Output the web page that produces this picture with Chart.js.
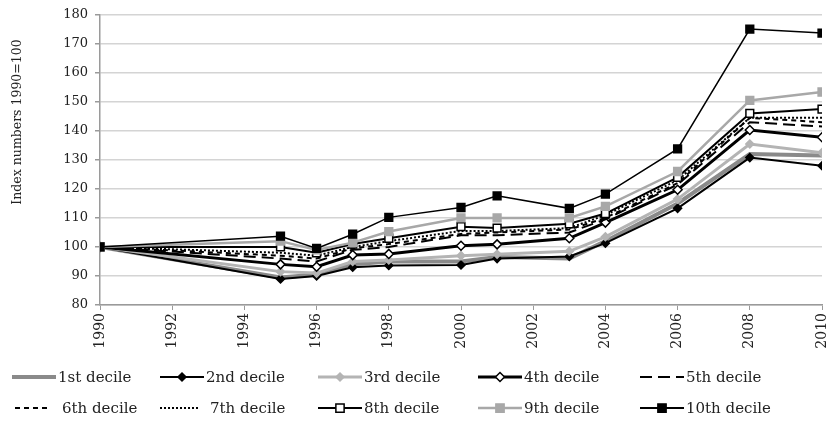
<!DOCTYPE html>
<html><head><meta charset="utf-8">
<script src="https://cdn.jsdelivr.net/npm/chart.js@4"></script>
<style>html,body{margin:0;padding:0;background:#fff}#wrap{width:829px;height:431px;position:relative}</style>
</head><body><div id="wrap"><canvas id="c"></canvas></div>
<script>
const years = [1990,1995,1996,1997,1998,2000,2001,2003,2004,2006,2008,2010];
const seriesNames = ['1st decile','2nd decile','3rd decile','4th decile','5th decile','6th decile','7th decile','8th decile','9th decile','10th decile'];
const d1 = [100,89.5,90.5,94,95,95,96.5,96,102,115,132,131.5];
const d2 = [100,89,90,93,93.6,93.8,96,96.7,101.3,113.3,130.8,128];
const d3 = [100,91.5,91,95,95.5,97,97.5,98.5,103.5,116.5,135.5,132.5];
const d4 = [100,94,93.2,97.2,97.6,100.4,100.9,103,108.4,119.7,140.3,137.8];
const d5 = [100,96,95,99,100,104,104,105,109.5,121.5,143,141.5];
const d6 = [100,97,96,99.5,101,104.5,105,106,110,122,144.5,143];
const d7 = [100,98,97,100,102,105.5,105.5,106.5,111,123,144.5,144.5];
const d8 = [100,100,98,101,103,107,106.5,108,111.5,124,146,147.5];
const d9 = [100,102,99,101.5,105.3,110,110,110,114,126,150.5,153.4];
const d10 = [100,103.7,99.5,104.4,110.2,113.6,117.6,113.3,118.2,133.8,175.1,173.7];
const allSeries = [d1,d2,d3,d4,d5,d6,d7,d8,d9,d10];
const yTitle = 'Index numbers 1990=100';

const FONT = '"DejaVu Serif", "Liberation Serif", serif';
const styles = [
  {c:'#8a8a8a', w:4, dash:[], ps:false, r:0},
  {c:'#000', w:2, dash:[], ps:'rectRot', r:4, fill:'#000', b:'#000'},
  {c:'#b4b4b4', w:3, dash:[], ps:'rectRot', r:4, fill:'#b4b4b4', b:'#b4b4b4'},
  {c:'#000', w:3, dash:[], ps:'rectRot', r:4.5, fill:'#fff', b:'#000'},
  {c:'#000', w:2, dash:[12,6], ps:false, r:0},
  {c:'#000', w:2, dash:[5,4], ps:false, r:0},
  {c:'#000', w:2, dash:[2,2], ps:false, r:0},
  {c:'#000', w:2, dash:[], ps:'rect', r:5.5, fill:'#fff', b:'#000'},
  {c:'#a8a8a8', w:2.5, dash:[], ps:'rect', r:5.5, fill:'#a8a8a8', b:'#a8a8a8'},
  {c:'#000', w:1.5, dash:[], ps:'rect', r:5.5, fill:'#000', b:'#000'}
];

const datasets = allSeries.map((arr,i)=>{
  const s = styles[i];
  return {
    label: seriesNames[i],
    data: years.map((y,k)=>({x:y,y:arr[k]})),
    borderColor: s.c, borderWidth: s.w, borderDash: s.dash,
    pointStyle: s.ps || 'circle', pointRadius: s.r, pointHoverRadius: s.r,
    pointBackgroundColor: s.fill || s.c, pointBorderColor: s.b || s.c,
    pointBorderWidth: 1.5, tension: 0, fill:false,
    order: 10 - i
  };
});

const legendCols = [12,160,318,478,640];
const legendRows = [377,408];
const legendPlugin = {
  id:'customLegend',
  afterDraw(chart){
    const ctx = chart.ctx;
    ctx.save();
    // y axis title
    ctx.translate(18, 122);
    ctx.rotate(-Math.PI/2);
    ctx.font = '12.5px ' + FONT;
    ctx.fillStyle = '#222';
    ctx.textAlign = 'center';
    ctx.textBaseline = 'middle';
    ctx.fillText(yTitle, 0, 0);
    ctx.restore();

    ctx.save();
    ctx.font = '15px ' + FONT;
    ctx.textBaseline = 'middle';
    styles.forEach((s,i)=>{
      const x = legendCols[i%5], y = legendRows[Math.floor(i/5)];
      let len = 44;
      let x0 = x;
      if (i===5){ x0 = x+3; len = 32; }
      if (i===6){ len = 40; }
      ctx.beginPath();
      ctx.setLineDash(s.dash);
      ctx.strokeStyle = s.c;
      ctx.lineWidth = Math.max(s.w, 2);
      ctx.moveTo(x0, y); ctx.lineTo(x0+len, y);
      ctx.stroke();
      ctx.setLineDash([]);
      if (s.ps){
        const r = s.r;
        ctx.fillStyle = s.fill; ctx.strokeStyle = s.b; ctx.lineWidth = 1.5;
        ctx.beginPath();
        const cx = x+len/2;
        if (s.ps==='rectRot'){
          ctx.moveTo(cx, y-r); ctx.lineTo(cx+r, y); ctx.lineTo(cx, y+r); ctx.lineTo(cx-r, y); ctx.closePath();
        } else {
          const h = r*0.75;
          ctx.rect(cx-h, y-h, 2*h, 2*h);
        }
        ctx.fill(); ctx.stroke();
      }
      ctx.fillStyle = '#222';
      const tx = (i===5) ? x+50 : (i===6 ? x+50 : x+46);
      ctx.fillText(seriesNames[i], tx, y+1);
    });
    ctx.restore();
  }
};

new Chart(document.getElementById('c'), {
  type:'line',
  data:{datasets},
  plugins:[legendPlugin],
  options:{
    responsive:true, maintainAspectRatio:false, animation:false,
    layout:{padding:{left:0,right:7,top:11,bottom:80}},
    plugins:{legend:{display:false}, tooltip:{enabled:false}},
    scales:{
      x:{type:'linear', min:1990, max:2010,
        afterFit(s){ s.height = 46; s.paddingLeft = 0; s.paddingRight = 0; },
        ticks:{stepSize:2, minRotation:90, maxRotation:90, color:'#222', padding:3,
          font:{family:FONT, size:14},
          callback:v=>String(v)},
        grid:{drawOnChartArea:false, drawTicks:true, tickLength:5, color:'#9a9a9a'},
        border:{color:'#9a9a9a', width:1.5}
      },
      y:{min:80, max:180,
        afterFit(s){ s.width = 100; },
        ticks:{stepSize:10, color:'#222', padding:7,
          font:{family:FONT, size:13}},
        grid:{color:'#d4d4d4', lineWidth:1.5, tickLength:5, tickColor:'#9a9a9a'},
        border:{color:'#9a9a9a', width:1.5}
      }
    }
  }
});
</script>
</body></html>
